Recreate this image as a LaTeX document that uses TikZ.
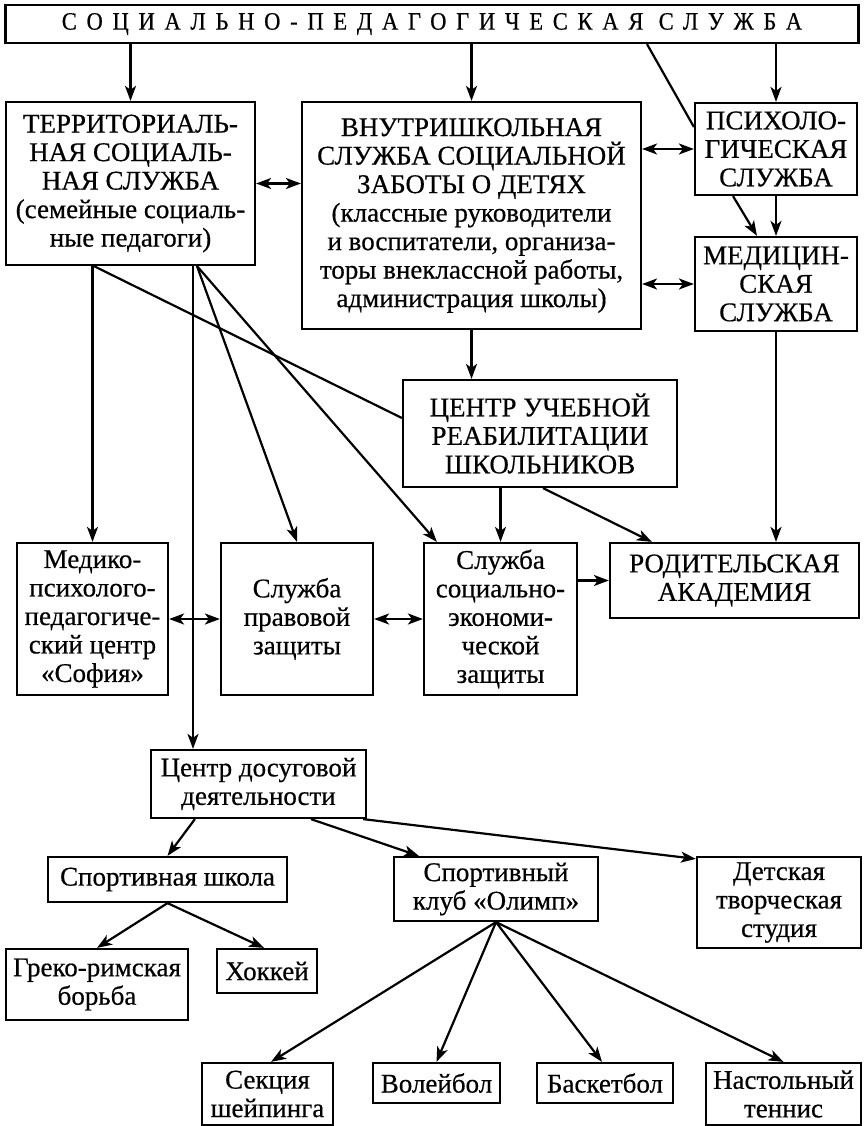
\documentclass[tikz,border=0pt]{standalone}
\usepackage{fontspec}
\setmainfont{Liberation Serif}[FakeBold=0.5]
\newfontfamily\spacedfont{Liberation Serif}[LetterSpace=39,FakeStretch=0.9,FakeBold=0.5]
\usetikzlibrary{arrows.meta}
\usetikzlibrary{calc}

\begin{document}
\begin{tikzpicture}[x=1pt,y=-1pt, line width=2.2pt,
    box/.style={draw, line width=2.2pt, inner sep=0pt, align=center,
        font=\fontsize{27}{28.5}\selectfont},
    >={Stealth[length=15pt,width=11pt,inset=4pt]}]
                \useasboundingbox (0,0) rectangle (865,1126);
                % top level
                \node[box, minimum width=853pt, minimum height=38pt, font=\fontsize{25}{27}\selectfont\spacedfont] (SPS) at (432,24) {СОЦИАЛЬНО-ПЕДАГОГИЧЕСКАЯ СЛУЖБА};
                \node[box, minimum width=249pt, minimum height=163pt] (TSS) at (130.5,183.5) {ТЕРРИТОРИАЛЬ-\\НАЯ СОЦИАЛЬ-\\НАЯ СЛУЖБА\\(семейные социаль-\\ные педагоги)};
                \node[box, minimum width=339pt, minimum height=227pt] (VSS) at (471.5,215.5) {ВНУТРИШКОЛЬНАЯ\\СЛУЖБА СОЦИАЛЬНОЙ\\ЗАБОТЫ О ДЕТЯХ\\(классные руководители\\и воспитатели, организа-\\торы внеклассной работы,\\администрация школы)};
                \node[box, minimum width=162pt, minimum height=92pt] (PS) at (776,149) {ПСИХОЛО-\\ГИЧЕСКАЯ\\СЛУЖБА};
                \node[box, minimum width=162pt, minimum height=94pt] (MS) at (776,284) {МЕДИЦИН-\\СКАЯ\\СЛУЖБА};
                \node[box, minimum width=274pt, minimum height=107pt] (CUR) at (540,433.5) {ЦЕНТР УЧЕБНОЙ\\РЕАБИЛИТАЦИИ\\ШКОЛЬНИКОВ};
                % services
                \node[box, minimum width=151pt, minimum height=152pt] (MPC) at (92.5,619) {Медико-\\психолого-\\педагогиче-\\ский центр\\«София»};
                \node[box, minimum width=152pt, minimum height=152pt] (SPZ) at (297,619) {Служба\\правовой\\защиты};
                \node[box, minimum width=153pt, minimum height=152pt] (SSEZ) at (500.5,619) {Служба\\социально-\\экономи-\\ческой\\защиты};
                \node[box, minimum width=249pt, minimum height=75pt] (RA) at (734.5,580.5) {РОДИТЕЛЬСКАЯ\\АКАДЕМИЯ};
                % leisure
                \node[box, minimum width=215pt, minimum height=68pt] (CDD) at (258.5,784) {Центр досуговой\\деятельности};
                \node[box, minimum width=239pt, minimum height=45pt] (SSch) at (167.5,879.5) {Спортивная школа};
                \node[box, minimum width=204pt, minimum height=64pt] (SKO) at (496,889) {Спортивный\\клуб «Олимп»};
                \node[box, minimum width=164pt, minimum height=91pt] (DTS) at (779,902.5) {Детская\\творческая\\студия};
                \node[box, minimum width=182pt, minimum height=71pt] (GRB) at (97,984.5) {Греко-римская\\борьба};
                \node[box, minimum width=100pt, minimum height=44pt] (Hock) at (267,971) {Хоккей};
                \node[box, minimum width=131pt, minimum height=62pt] (SSh) at (267.5,1094) {Секция\\шейпинга};
                \node[box, minimum width=127pt, minimum height=40pt] (Vol) at (436.5,1083) {Волейбол};
                \node[box, minimum width=136pt, minimum height=40pt] (Bask) at (605,1083) {Баскетбол};
                \node[box, minimum width=155pt, minimum height=62pt] (NT) at (783.5,1094) {Настольный\\теннис};
                % connectors
                \draw[->] (SPS.south -| TSS.north) -- (TSS.north);
                \draw[->] (SPS.south -| VSS.north) -- (VSS.north);
                \draw[->] (SPS.south -| PS.north) -- (PS.north);
                \draw ([xshift=215pt]SPS.south) -- ([yshift=22pt]PS.west);
                \draw[<->] (TSS.east) -- (TSS.east -| VSS.west);
                \draw[<->] (PS.west -| VSS.east) -- (PS.west);
                \draw[<->] (MS.west -| VSS.east) -- (MS.west);
                \draw[->] (PS.south) -- (MS.north);
                \draw[->] ([xshift=-43pt]PS.south) -- ([xshift=-19pt]MS.north);
                \draw[->] (VSS.south) -- (VSS.south |- CUR.north);
                \draw[->] (MS.south) -- (MS.south |- RA.north);
                \draw[->] (CUR.south -| SSEZ.north) -- (SSEZ.north);
                \draw[->] ([xshift=3pt]CUR.south) -- ([xshift=43pt]RA.north west);
                \draw[->] (SSEZ.east |- RA.west) -- (RA.west);
                \draw[->] (TSS.south -| MPC.north) -- (MPC.north);
                \draw ([xshift=89pt]TSS.south west) -- ([yshift=15.5pt]CUR.west);
                \draw[->] ([xshift=62.5pt]TSS.south) -- ([xshift=62.5pt]TSS.south |- CDD.north);
                \draw[->] ([xshift=66.5pt]TSS.south) -- (SPZ.north);
                \draw[->] ([xshift=66.5pt]TSS.south) -- ([xshift=14pt]SSEZ.north west);
                \draw[<->] (MPC.east) -- (SPZ.west);
                \draw[<->] (SPZ.east) -- (SSEZ.west);
                \draw[->] ([xshift=45pt]CDD.south west) -- (SSch.north);
                \draw[->] ([xshift=161pt]CDD.south west) -- ([xshift=26pt]SKO.north west);
                \draw[->] ([xshift=-4pt]CDD.south east) -- ([yshift=-3pt]DTS.north west);
                \draw[->] (SSch.south) -- (GRB.north);
                \draw[->] (SSch.south) -- ([xshift=-3pt]Hock.north);
                \draw[->] (SKO.south) -- ([xshift=3.5pt]SSh.north);
                \draw[->] (SKO.south) -- (Vol.north);
                \draw[->] (SKO.south) -- ([xshift=-3pt]Bask.north);
                \draw[->] (SKO.south) -- (NT.north);
            \end{tikzpicture}
\end{document}
